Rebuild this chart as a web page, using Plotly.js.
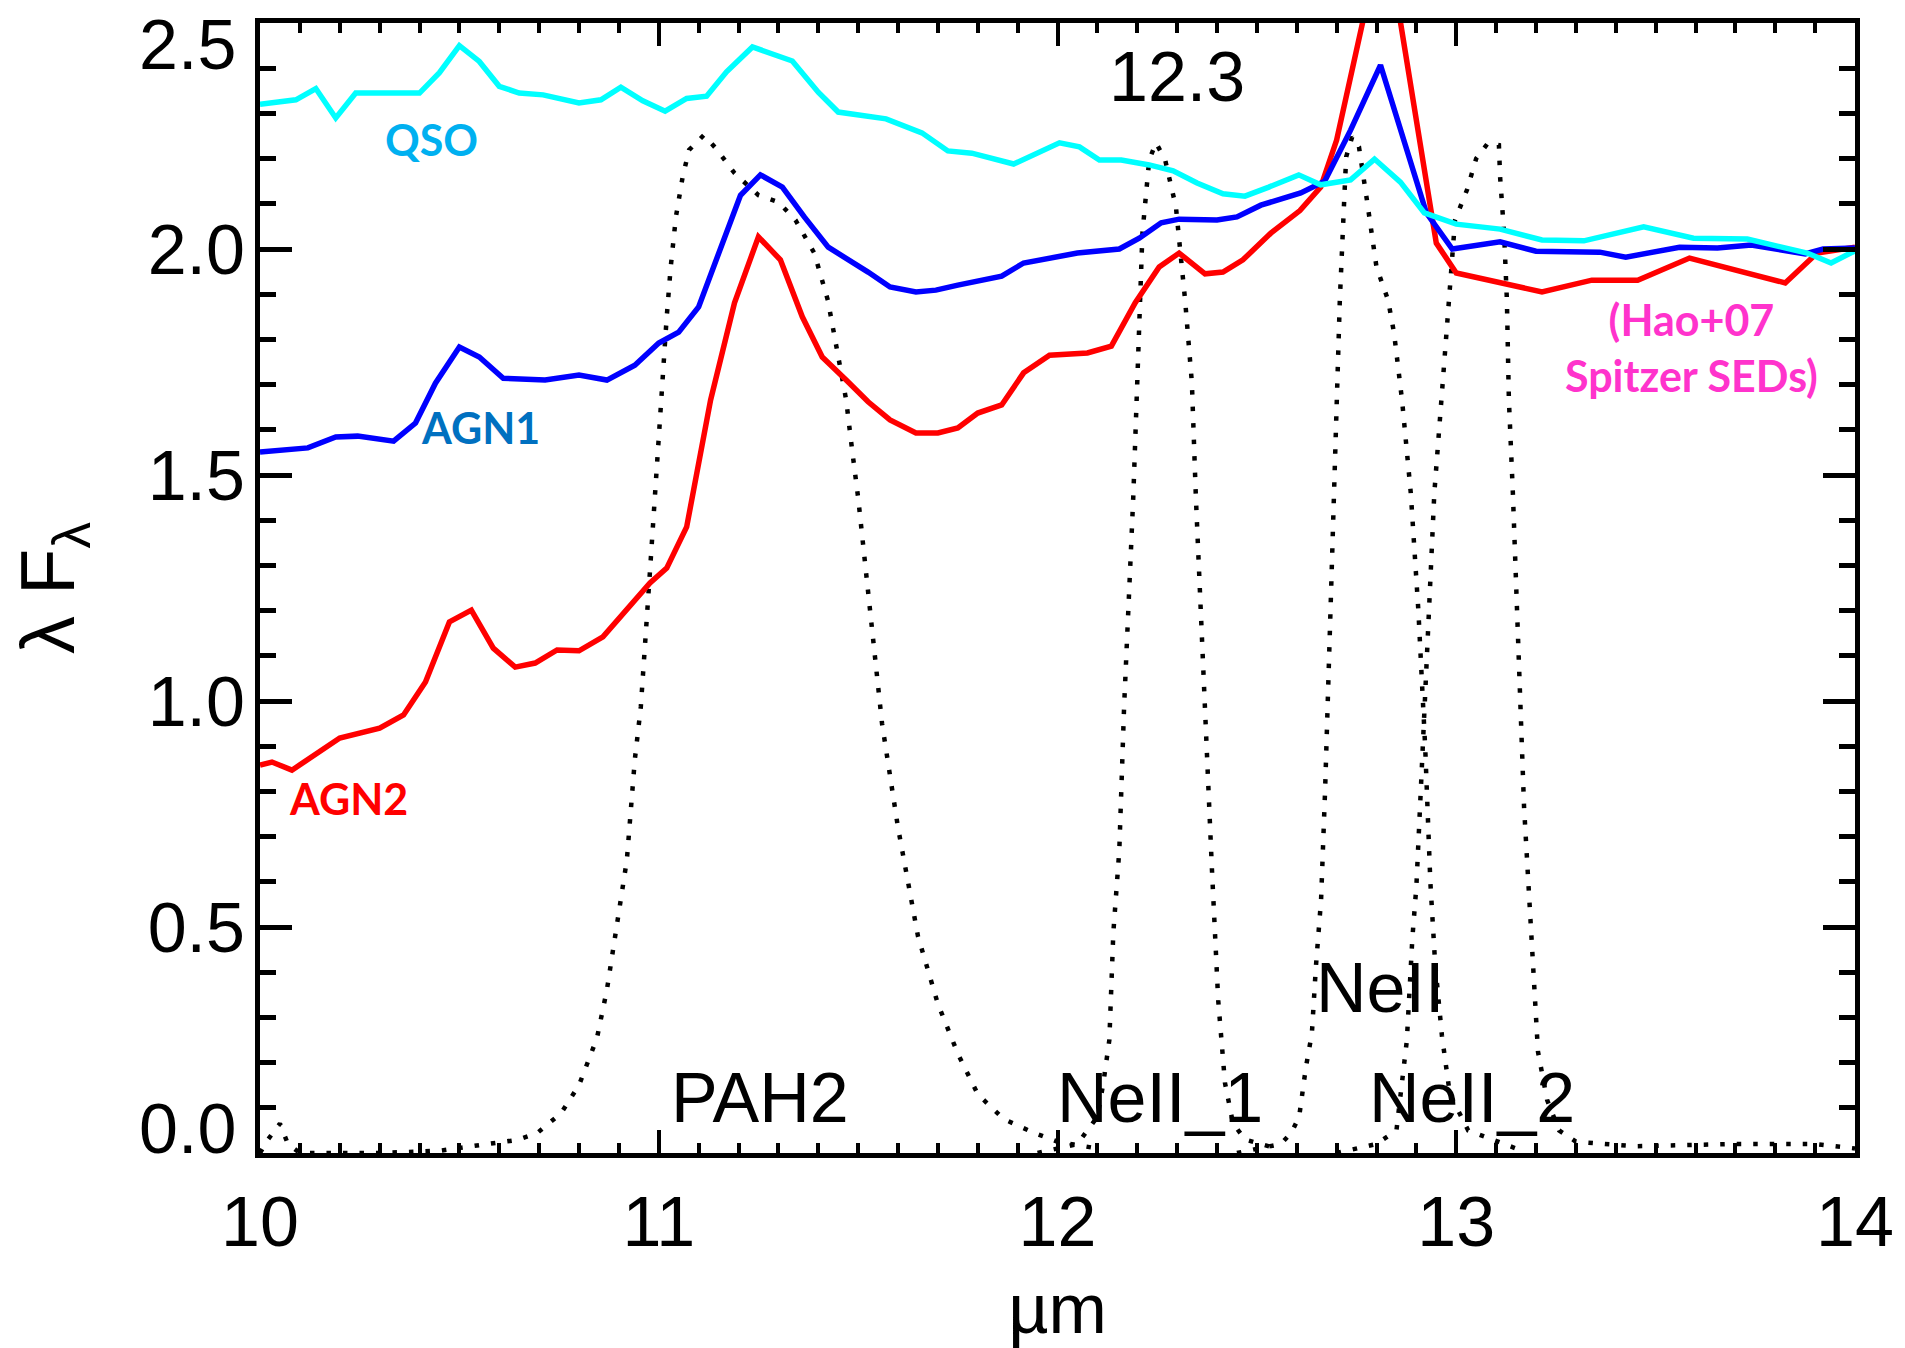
<!DOCTYPE html>
<html>
<head>
<meta charset="utf-8">
<script src="https://cdn.plot.ly/plotly-3.0.1.min.js"></script>
<style>
  html, body { margin: 0; padding: 0; background: #ffffff; }
  #chart { width: 1905px; height: 1348px; }
</style>
</head>
<body>
<div id="chart"></div>
<script>
// Mean Spitzer SEDs (Hao+07) in the 10-14 micron window, lambda*F_lambda (normalised)
const qsoWave = [10.00, 10.09, 10.14, 10.19, 10.24, 10.30, 10.40, 10.45, 10.50, 10.55, 10.60, 10.65, 10.71, 10.80,
  10.855, 10.905, 10.96, 11.016, 11.07, 11.12, 11.17, 11.235, 11.335, 11.40, 11.45, 11.57, 11.66, 11.725, 11.785,
  11.89, 12.005, 12.055, 12.105, 12.16, 12.23, 12.29, 12.35, 12.415, 12.47, 12.53, 12.605, 12.66, 12.735, 12.795,
  12.86, 12.92, 13.00, 13.11, 13.215, 13.32, 13.47, 13.595, 13.73, 13.88, 13.94, 14.00];
const qsoFlux = [2.32, 2.33, 2.355, 2.29, 2.345, 2.345, 2.345, 2.39, 2.45, 2.415, 2.36, 2.345, 2.341, 2.323,
  2.33, 2.358, 2.328, 2.305, 2.333, 2.338, 2.392, 2.447, 2.416, 2.347, 2.303, 2.288, 2.257, 2.217, 2.212,
  2.188, 2.235, 2.226, 2.197, 2.197, 2.186, 2.173, 2.146, 2.122, 2.117, 2.137, 2.164, 2.142, 2.153, 2.199,
  2.148, 2.080, 2.055, 2.044, 2.020, 2.018, 2.049, 2.024, 2.022, 1.991, 1.969, 1.996];

const agn1Wave = [10.00, 10.12, 10.19, 10.245, 10.335, 10.39, 10.44, 10.50, 10.55, 10.61, 10.715, 10.80, 10.87,
  10.94, 11.00, 11.05, 11.10, 11.155, 11.205, 11.255, 11.31, 11.365, 11.425, 11.525, 11.58, 11.645, 11.695,
  11.75, 11.815, 11.86, 11.915, 11.985, 12.05, 12.155, 12.205, 12.26, 12.305, 12.40, 12.45, 12.51, 12.61,
  12.67, 12.735, 12.81, 12.865, 12.925, 12.99, 13.11, 13.20, 13.36, 13.425, 13.56, 13.655, 13.74, 13.875,
  13.92, 14.00];
const agn1Flux = [1.551, 1.560, 1.584, 1.586, 1.575, 1.615, 1.703, 1.783, 1.761, 1.714, 1.710, 1.721, 1.710,
  1.743, 1.792, 1.816, 1.872, 2.004, 2.119, 2.164, 2.137, 2.071, 2.004, 1.949, 1.916, 1.905, 1.909,
  1.920, 1.931, 1.940, 1.969, 1.982, 1.991, 2.000, 2.024, 2.058, 2.066, 2.064, 2.071, 2.097, 2.124,
  2.150, 2.263, 2.407, 2.250, 2.080, 2.000, 2.016, 1.995, 1.993, 1.982, 2.004, 2.002, 2.009, 1.989,
  2.000, 2.002];

const agn2Wave = [10.00, 10.03, 10.08, 10.20, 10.30, 10.36, 10.415, 10.475, 10.53, 10.585, 10.64, 10.69, 10.745,
  10.80, 10.86, 10.915, 10.978, 11.02, 11.07, 11.13, 11.19, 11.25, 11.305, 11.36, 11.41, 11.47, 11.525, 11.58,
  11.645, 11.70, 11.75, 11.80, 11.86, 11.915, 11.98, 12.075, 12.135, 12.195, 12.255, 12.305, 12.37, 12.415,
  12.465, 12.535, 12.608, 12.66, 12.70, 12.82, 12.95, 13.00, 13.12, 13.215, 13.34, 13.455, 13.585, 13.825,
  13.905, 14.00];
const agn2Flux = [0.858, 0.865, 0.847, 0.918, 0.940, 0.969, 1.042, 1.175, 1.201, 1.117, 1.075, 1.084, 1.113,
  1.111, 1.142, 1.197, 1.261, 1.294, 1.385, 1.666, 1.881, 2.027, 1.976, 1.850, 1.761, 1.710, 1.662, 1.622,
  1.593, 1.593, 1.604, 1.637, 1.655, 1.726, 1.765, 1.770, 1.785, 1.881, 1.960, 1.991, 1.945, 1.949,
  1.976, 2.035, 2.085, 2.137, 2.241, 2.720, 2.013, 1.947, 1.925, 1.905, 1.931, 1.931, 1.980, 1.925,
  1.991, 2.004];

// Filter transmission profiles (arbitrary scale)
const pah2Wave = [10.00, 10.02, 10.05, 10.07, 10.10, 10.30, 10.45, 10.56, 10.645, 10.695, 10.755, 10.80, 10.845,
  10.87, 10.895, 10.92, 10.94, 10.955, 10.977, 10.99, 11.00, 11.01, 11.02, 11.03, 11.043, 11.06, 11.076, 11.113,
  11.143, 11.19, 11.25, 11.30, 11.343, 11.39, 11.424, 11.447, 11.47, 11.485, 11.50, 11.53, 11.56, 11.60, 11.65,
  11.70, 11.75, 11.80, 11.865, 11.94, 12.00, 12.10];
const pah2Trans = [0.0, 0.03, 0.065, 0.02, 0.0, 0.0, 0.005, 0.018, 0.029, 0.044, 0.088, 0.150, 0.254,
  0.361, 0.509, 0.648, 0.870, 0.987, 1.274, 1.450, 1.593, 1.739, 1.850, 1.960, 2.071, 2.160, 2.219, 2.252,
  2.223, 2.168, 2.119, 2.104, 2.064, 1.991, 1.887, 1.777, 1.666, 1.555, 1.450, 1.200, 0.950, 0.720, 0.480,
  0.330, 0.220, 0.130, 0.075, 0.045, 0.025, 0.010];

const ne1Wave = [11.95, 12.05, 12.10, 12.115, 12.13, 12.14, 12.155, 12.167, 12.19, 12.213, 12.23, 12.247, 12.27,
  12.297, 12.32, 12.337, 12.347, 12.369, 12.387, 12.403, 12.42, 12.44, 12.47, 12.55];
const ne1Trans = [0.0, 0.02, 0.08, 0.155, 0.25, 0.487, 0.67, 0.987, 1.451, 2.035, 2.197, 2.235, 2.197,
  2.093, 1.887, 1.704, 1.451, 0.987, 0.633, 0.338, 0.155, 0.066, 0.03, 0.01];

const neWave = [12.45, 12.56, 12.586, 12.606, 12.623, 12.638, 12.648, 12.661, 12.671, 12.68, 12.693, 12.698,
  12.708, 12.719, 12.724, 12.739, 12.756, 12.776, 12.80, 12.829, 12.844, 12.864, 12.886, 12.905, 12.922, 12.935,
  12.947, 12.964, 12.984, 13.03, 13.15];
const neTrans = [0.0, 0.02, 0.044, 0.08, 0.19, 0.265, 0.412, 0.56, 0.80, 1.05, 1.451, 1.628,
  1.887, 2.108, 2.204, 2.248, 2.226, 2.108, 1.960, 1.887, 1.814, 1.666, 1.46, 1.20, 0.90, 0.60,
  0.42, 0.26, 0.13, 0.05, 0.01];

const ne2Wave = [12.70, 12.80, 12.85, 12.876, 12.89, 12.90, 12.912, 12.93, 12.945, 12.997, 13.027, 13.05, 13.08,
  13.107, 13.11, 13.12, 13.127, 13.132, 13.142, 13.17, 13.184, 13.195, 13.205, 13.228, 13.258, 13.30, 13.45,
  13.70, 13.90, 14.00];
const ne2Trans = [0.0, 0.02, 0.05, 0.248, 0.476, 0.59, 0.82, 1.20, 1.46, 2.064, 2.131, 2.20, 2.235,
  2.23, 2.159, 2.035, 1.887, 1.666, 1.46, 0.766, 0.553, 0.36, 0.224, 0.117, 0.05, 0.025, 0.015,
  0.02, 0.02, 0.01];

// Axis ticks
const xTickVals = [10, 11, 12, 13, 14];
const xTickText = ['10', '11', '12', '13', '14'];
const yTickVals = [0, 0.5, 1.0, 1.5, 2.0, 2.5];
const yTickText = ['0.0', '0.5', '1.0', '1.5', '2.0', '2.5'];

const AXIS_FONT = 'Liberation Sans, Arial, Helvetica, sans-serif';
const LABEL_FONT = 'Lato, Open Sans, sans-serif';

const filterLine = { color: '#000000', width: 4.5, dash: '4.5px,12px' };

function filterTrace(x, y, name) {
  return { x: x, y: y, name: name, type: 'scatter', mode: 'lines', line: filterLine, hoverinfo: 'skip' };
}

const traces = [
  filterTrace(pah2Wave, pah2Trans, 'PAH2'),
  filterTrace(ne1Wave, ne1Trans, 'NeII_1'),
  filterTrace(neWave, neTrans, 'NeII'),
  filterTrace(ne2Wave, ne2Trans, 'NeII_2'),
  { x: agn2Wave, y: agn2Flux, name: 'AGN2', type: 'scatter', mode: 'lines',
    line: { color: '#ff0000', width: 5.5 } },
  { x: agn1Wave, y: agn1Flux, name: 'AGN1', type: 'scatter', mode: 'lines',
    line: { color: '#0000ff', width: 5.5 } },
  { x: qsoWave, y: qsoFlux, name: 'QSO', type: 'scatter', mode: 'lines',
    line: { color: '#00ffff', width: 5.5 } }
];

function blackLabel(text, x, y) {
  return { text: text, x: x, y: y, xref: 'x', yref: 'y', showarrow: false,
    xanchor: 'center', yanchor: 'middle',
    font: { family: AXIS_FONT, size: 70, color: '#000000' } };
}
function colourLabel(text, x, y, colour) {
  return { text: '<b>' + text + '</b>', x: x, y: y, xref: 'x', yref: 'y', showarrow: false,
    xanchor: 'center', yanchor: 'middle', align: 'center',
    font: { family: LABEL_FONT, size: 43, color: colour } };
}

const lastY = yTickText.length - 1;
const annotations = [
  blackLabel('12.3', 12.30, 2.38),
  blackLabel('PAH2', 11.255, 0.122),
  blackLabel('NeII_1', 12.257, 0.122),
  blackLabel('NeII', 12.81, 0.365),
  blackLabel('NeII_2', 13.04, 0.122),
  colourLabel('QSO', 10.43, 2.243, '#00b0f0'),
  colourLabel('AGN1', 10.552, 1.604, '#0070c0'),
  colourLabel('AGN2', 10.221, 0.785, '#ff0000'),
  colourLabel('(Hao+07<br>Spitzer SEDs)', 13.59, 1.783, '#ff33cc'),
  // end labels of the flux axis sit just inside the frame
  { text: yTickText[0], x: 0, y: yTickVals[0], xref: 'paper', yref: 'y', showarrow: false,
    xanchor: 'right', yanchor: 'middle', xshift: -22, yshift: 24,
    font: { family: AXIS_FONT, size: 70, color: '#000000' } },
  { text: yTickText[lastY], x: 0, y: yTickVals[lastY], xref: 'paper', yref: 'y', showarrow: false,
    xanchor: 'right', yanchor: 'middle', xshift: -22, yshift: -22,
    font: { family: AXIS_FONT, size: 70, color: '#000000' } }
];

const layout = {
  width: 1905,
  height: 1348,
  margin: { l: 260, r: 50, t: 23, b: 195 },
  paper_bgcolor: '#ffffff',
  plot_bgcolor: '#ffffff',
  showlegend: false,
  font: { family: AXIS_FONT, color: '#000000' },
  xaxis: {
    range: [10, 14],
    tickvals: xTickVals,
    ticktext: xTickText,
    ticks: 'inside',
    ticklen: 23,
    tickwidth: 4,
    tickcolor: '#000000',
    minor: { dtick: 0.1, ticks: 'inside', ticklen: 10, tickwidth: 4, tickcolor: '#000000' },
    showline: true,
    linewidth: 5,
    linecolor: '#000000',
    mirror: 'ticks',
    showgrid: false,
    zeroline: false,
    tickfont: { family: AXIS_FONT, size: 70, color: '#000000' },
    ticklabelstandoff: 4,
    title: { text: 'µm', font: { family: AXIS_FONT, size: 70, color: '#000000' }, standoff: 64 }
  },
  yaxis: {
    range: [0, 2.5],
    tickvals: yTickVals,
    ticktext: yTickText.map((t, i) => (i === 0 || i === lastY) ? '' : t),
    ticks: 'inside',
    ticklen: 32,
    tickwidth: 5,
    tickcolor: '#000000',
    minor: { dtick: 0.1, ticks: 'inside', ticklen: 16, tickwidth: 5, tickcolor: '#000000' },
    showline: true,
    linewidth: 5,
    linecolor: '#000000',
    mirror: 'ticks',
    showgrid: false,
    zeroline: false,
    tickfont: { family: AXIS_FONT, size: 70, color: '#000000' },
    ticklabelstandoff: -4,
    title: { text: 'λ F<sub>λ</sub>', font: { family: AXIS_FONT, size: 76, color: '#000000' }, standoff: 50 }
  },
  annotations: annotations
};

Plotly.newPlot('chart', traces, layout, { displayModeBar: false, staticPlot: true });
</script>
</body>
</html>
